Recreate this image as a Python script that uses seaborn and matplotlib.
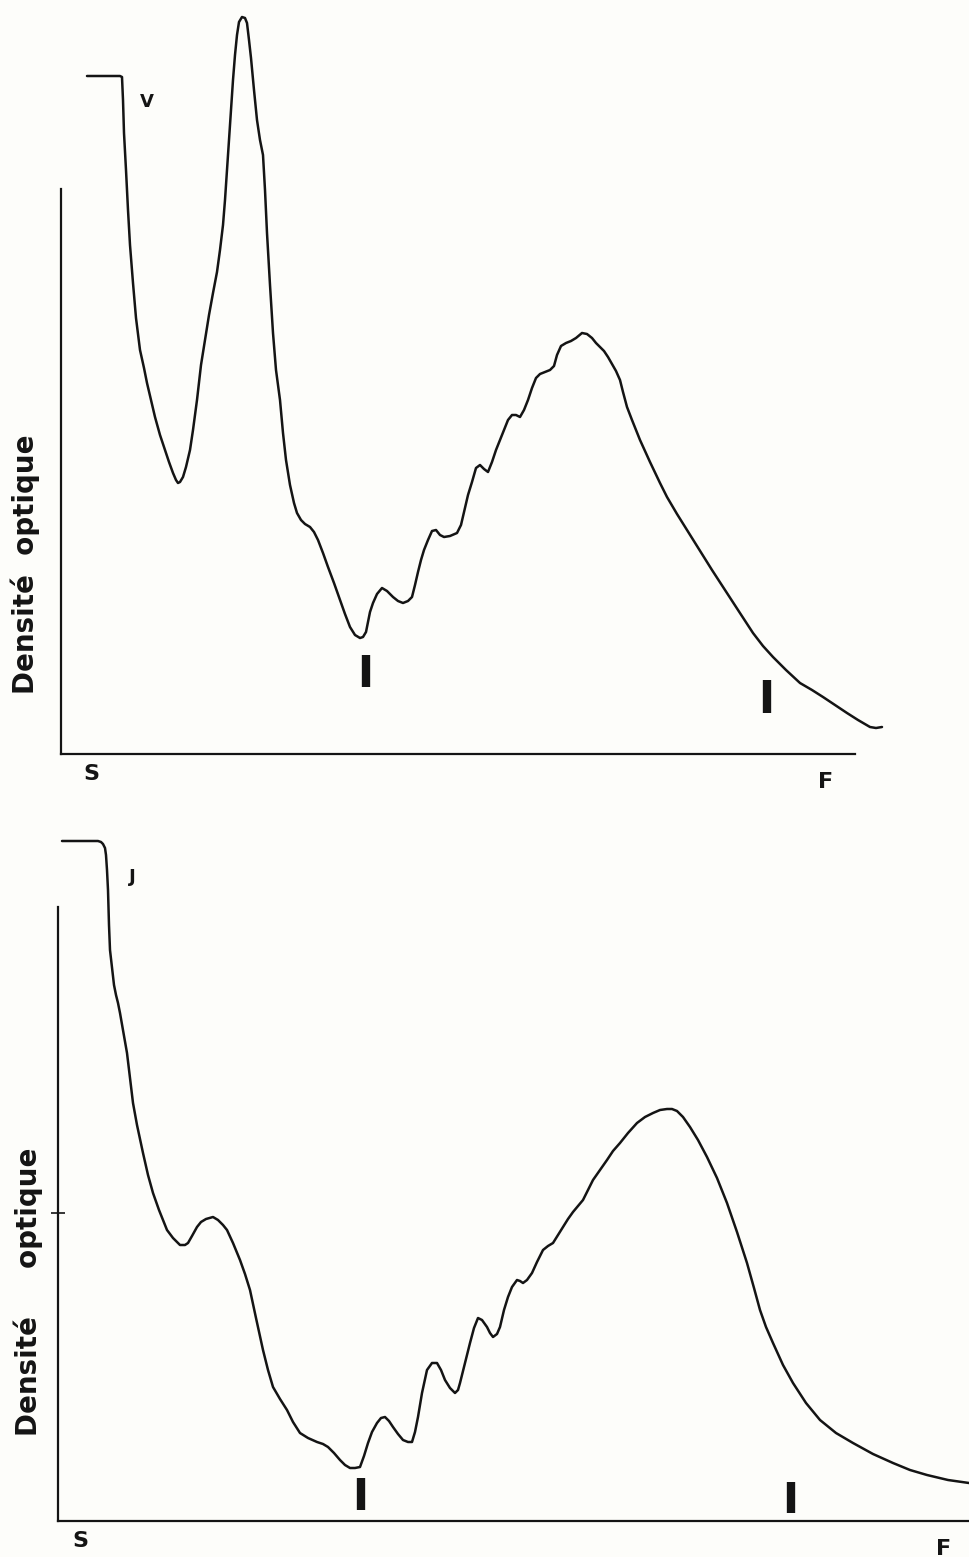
"""Densitogrammes V et J — deux tracés de densité optique entre S et F."""

import matplotlib

matplotlib.use("Agg")

import matplotlib.pyplot as plt  # noqa: E402
import pandas as pd  # noqa: E402
import seaborn as sns  # noqa: E402

# Tracé V : distance depuis S, hauteur au-dessus de la ligne de base
v_dist = [26, 59, 61, 62, 63, 65, 67, 69, 72, 75, 79, 83, 86, 90, 94, 99, 104,
          108, 112, 115, 117, 119, 122, 125, 129, 132, 136, 140, 144, 148, 152,
          156, 159, 162, 164, 166, 168, 170, 172, 174, 176, 178, 181, 184, 186,
          188, 190, 193, 196, 199, 202, 204, 206, 209, 212, 215, 219, 222, 225,
          229, 233, 236, 240, 244, 249, 253, 257, 262, 267, 273, 279, 284, 289,
          294, 299, 302, 305, 307, 309, 312, 316, 321, 326, 332, 337, 342, 347,
          351, 354, 357, 360, 363, 367, 371, 375, 379, 383, 389, 396, 400, 403,
          407, 411, 415, 419, 423, 427, 431, 435, 439, 443, 447, 451, 455, 459,
          463, 467, 471, 475, 479, 484, 489, 493, 496, 500, 505, 510, 515, 521,
          526, 531, 535, 539, 543, 547, 551, 555, 559, 562, 566, 571, 579, 589,
          599, 606, 616, 626, 639, 651, 662, 677, 692, 702, 712, 725, 739, 751,
          762, 774, 786, 797, 809, 815, 821]
v_dens = [678, 678, 677, 654, 621, 584, 544, 509, 471, 436, 404, 386, 371, 354,
          337, 319, 304, 292, 281, 274, 271, 272, 277, 287, 304, 324, 354, 389,
          414, 439, 461, 482, 504, 529, 554, 584, 614, 644, 674, 699, 719, 732,
          737, 736, 731, 714, 696, 664, 634, 614, 599, 564, 521, 469, 421, 384,
          354, 321, 294, 269, 251, 241, 234, 230, 227, 222, 214, 201, 187, 171,
          154, 140, 127, 119, 116, 117, 122, 132, 142, 151, 160, 166, 163, 157,
          153, 151, 153, 157, 169, 182, 194, 204, 214, 223, 224, 219, 217, 218,
          221, 229, 242, 259, 272, 286, 289, 285, 282, 292, 304, 314, 324, 334,
          339, 339, 337, 344, 354, 366, 376, 380, 382, 384, 388, 399, 408, 411,
          413, 416, 421, 420, 416, 411, 407, 403, 397, 390, 383, 374, 362, 347,
          334, 314, 292, 271, 257, 240, 224, 203, 184, 167, 144, 121, 108, 97,
          84, 71, 64, 57, 49, 41, 34, 27, 26, 27]

# Tracé J
j_dist = [4, 40, 43, 45, 47, 48, 49, 50, 51, 52, 54, 56, 58, 60, 62, 65, 69, 72,
          75, 79, 85, 90, 95, 101, 109, 115, 122, 127, 130, 134, 139, 143, 148,
          155, 160, 165, 169, 175, 182, 187, 192, 198, 205, 210, 215, 222, 229,
          235, 242, 250, 259, 265, 270, 276, 282, 287, 292, 297, 302, 306, 310,
          314, 319, 323, 327, 331, 335, 340, 345, 350, 354, 357, 360, 364, 369,
          374, 379, 383, 387, 392, 397, 400, 402, 407, 412, 416, 420, 424, 429,
          432, 435, 439, 442, 446, 450, 454, 459, 462, 465, 469, 474, 479, 485,
          490, 495, 500, 505, 510, 515, 520, 525, 530, 535, 542, 549, 555, 562,
          570, 579, 587, 595, 602, 609, 614, 619, 625, 632, 640, 649, 659, 669,
          679, 689, 696, 702, 708, 715, 725, 735, 748, 762, 778, 795, 815, 835,
          852, 869, 890, 911]
j_dens = [680, 680, 679, 677, 673, 666, 651, 631, 596, 571, 553, 536, 526, 518,
          508, 491, 468, 443, 418, 396, 368, 346, 328, 311, 291, 283, 276, 276,
          278, 285, 294, 299, 302, 304, 301, 296, 291, 278, 261, 247, 231, 203,
          171, 151, 134, 122, 111, 99, 88, 83, 79, 77, 74, 68, 61, 56, 53, 53,
          54, 65, 78, 89, 98, 103, 104, 100, 94, 87, 81, 79, 79, 89, 104, 128,
          151, 158, 158, 151, 141, 133, 128, 131, 138, 158, 178, 193, 203, 201,
          194, 188, 184, 187, 194, 211, 224, 234, 241, 240, 238, 241, 248, 259,
          271, 275, 278, 286, 294, 302, 309, 315, 321, 331, 341, 351, 361, 370,
          378, 388, 398, 404, 408, 411, 412, 412, 410, 404, 394, 381, 364, 343,
          318, 289, 258, 233, 211, 194, 178, 156, 138, 118, 101, 88, 78, 67, 58,
          51, 46, 41, 38]

# repères (traits verticaux) sous chaque tracé : position, bas, haut
v_marks_x = [305, 706]
v_marks_lo = [67, 41]
v_marks_hi = [99, 74]
j_marks_x = [303, 733]
j_marks_lo = [11, 8]
j_marks_hi = [43, 39]

INK = "#141414"

sns.set_theme(style="white")
plt.rcParams["font.family"] = ["DejaVu Sans"]

W, H = 969, 1557
fig = plt.figure(figsize=(W / 100, H / 100), dpi=100, facecolor="#fdfdfa")


def panel(rect_px, xmax, ymax, ybound, xbound):
    left, top, right, base = rect_px
    ax = fig.add_axes([left / W, 1 - base / H, (right - left) / W, (base - top) / H])
    ax.set_facecolor("none")
    ax.set_xlim(0, xmax)
    ax.set_ylim(0, ymax)
    sns.despine(ax=ax)
    for side in ("left", "bottom"):
        ax.spines[side].set_color(INK)
        ax.spines[side].set_linewidth(1.6)
    ax.spines["left"].set_bounds(0, ybound)
    ax.spines["bottom"].set_bounds(0, xbound)
    ax.set_xticks([])
    ax.set_yticks([])
    ax.grid(False)
    return ax


def trace(ax, dist, dens, marks_x, lo, hi):
    df = pd.DataFrame({"distance": dist, "densite": dens})
    sns.lineplot(data=df, x="distance", y="densite", sort=False, estimator=None,
                 color=INK, linewidth=1.8, ax=ax)
    ax.lines[-1].set_solid_joinstyle("round")
    ax.vlines(marks_x, lo, hi, color=INK, linewidth=6, capstyle="butt")
    ax.set_xlabel("")
    ax.set_ylabel("")


lab = dict(color=INK, fontweight="bold", ha="center", va="center")

# --- panneau V ---
ax1 = panel((61, 8, 910, 754), 849, 746, 565, 794)
trace(ax1, v_dist, v_dens, v_marks_x, v_marks_lo, v_marks_hi)
ax1.text(-0.0424, 0.2547, "Densité  optique", transform=ax1.transAxes,
         rotation=90, fontsize=20, **lab)
ax1.text(30, -20, "S", fontsize=16, **lab)
ax1.text(765, -28, "F", fontsize=16, **lab)
ax1.text(86, 652, "V", fontsize=13, **lab)

# --- panneau J ---
ax2 = panel((58, 825, 969, 1521), 911, 696, 614, 911)
trace(ax2, j_dist, j_dens, j_marks_x, j_marks_lo, j_marks_hi)
ax2.set_yticks([308])
ax2.tick_params(axis="y", direction="inout", length=10, width=1.2,
                color=INK, labelleft=False, left=True)
ax2.text(-0.0329, 0.329, "Densité     optique", transform=ax2.transAxes,
         rotation=90, fontsize=20, **lab)
ax2.text(22, -20, "S", fontsize=16, **lab)
ax2.text(886, -28, "F", fontsize=16, **lab)
ax2.text(74, 644, "J", fontsize=13, **lab)

fig.savefig("out.png", dpi=100, facecolor=fig.get_facecolor())
plt.close(fig)
